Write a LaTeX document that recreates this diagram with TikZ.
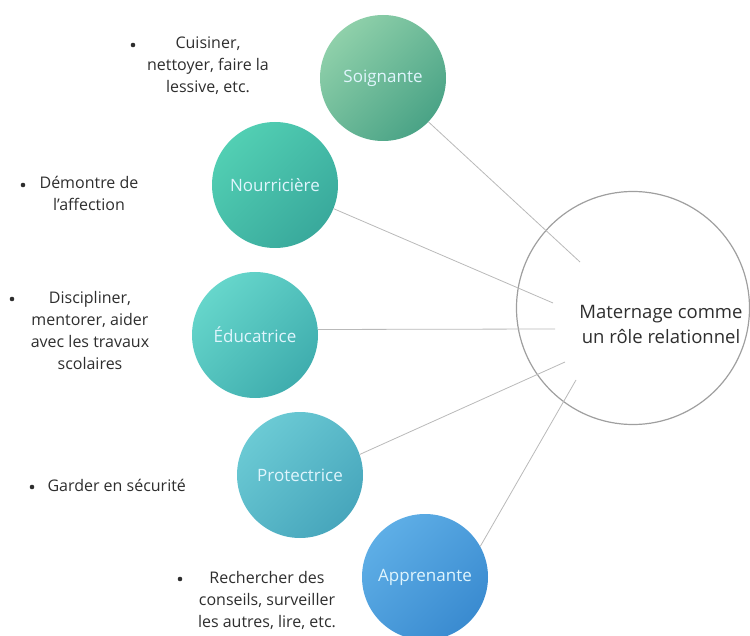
\documentclass[tikz,border=0pt]{standalone}
\usepackage{fontspec}
\setmainfont{Open Sans}
\usepackage{xcolor}
\definecolor{soinA}{HTML}{8FD0AA}
\definecolor{soinB}{HTML}{4AA386}
\definecolor{nourA}{HTML}{52CFB3}
\definecolor{nourB}{HTML}{39A99C}
\definecolor{educA}{HTML}{66D6CB}
\definecolor{educB}{HTML}{3FADAE}
\definecolor{protA}{HTML}{6BCAD4}
\definecolor{protB}{HTML}{47A6BC}
\definecolor{appA}{HTML}{5EAEE6}
\definecolor{appB}{HTML}{3A8BD0}
\definecolor{ink}{HTML}{2E2E2E}

\begin{document}
\begin{tikzpicture}[x=1pt,y=-1pt,
  role/.style={circle, minimum size=126pt, inner sep=0pt,
    font=\fontsize{17}{19}\selectfont, text=white!88!cyan},
  link/.style={draw=gray!55, line width=0.8pt},
  note/.style={align=center, font=\fontsize{16}{22}\selectfont, text=ink},
  dot/.style={circle, fill=ink, inner sep=0pt, minimum size=4.6pt}]
\useasboundingbox (0,0) rectangle (750,636);

\node[role, top color=soinA, bottom color=soinB, shading angle=45] (soin) at (383,78) {Soignante};
\node[role, top color=nourA, bottom color=nourB, shading angle=45] (nour) at (275,185) {Nourricière};
\node[role, top color=educA, bottom color=educB, shading angle=45] (educ) at (255,335) {Éducatrice};
\node[role, top color=protA, bottom color=protB, shading angle=45] (prot) at (300,475) {Protectrice};
\node[role, top color=appA, bottom color=appB, shading angle=45] (appr) at (425,577) {Apprenante};

\node[circle, draw=gray!75, line width=1.2pt, minimum size=233pt, inner sep=0pt] (mat) at (633,308) {};
\node[align=center, font=\fontsize{18.5}{25}\selectfont, text=ink] (matTxt) at (661,324)
  {Maternage comme\\un rôle relationnel};

\coordinate (e1) at (580,262);
\coordinate (e2) at (553,303);
\coordinate (e3) at (555,329);
\coordinate (e4) at (565,362);
\coordinate (e5) at (576,380);
\draw[link] (soin.-44) -- (e1);
\draw[link] (nour.-22) -- (e2);
\draw[link] (educ.5) -- (e3);
\draw[link] (prot.19) -- (e4);
\draw[link] (appr.29) -- (e5);

\node[dot] (b1) at (133,45) {};
\node[note] (soinTxt) at (208,66) {Cuisiner,\\nettoyer, faire la\\lessive, etc.};
\node[dot] (b2) at (23,185) {};
\node[note] (nourTxt) at (89,193) {Démontre de\\l’affection};
\node[dot] (b3) at (12,299) {};
\node[note] (educTxt) at (90,331) {Discipliner,\\mentorer, aider\\avec les travaux\\scolaires};
\node[dot] (b4) at (32,487) {};
\node[note, anchor=west] (protTxt) at (44,485) {Garder en sécurité};
\node[dot] (b5) at (180,579) {};
\node[note] (apprTxt) at (267,600) {Rechercher des\\conseils, surveiller\\les autres, lire, etc.};
\end{tikzpicture}
\end{document}
